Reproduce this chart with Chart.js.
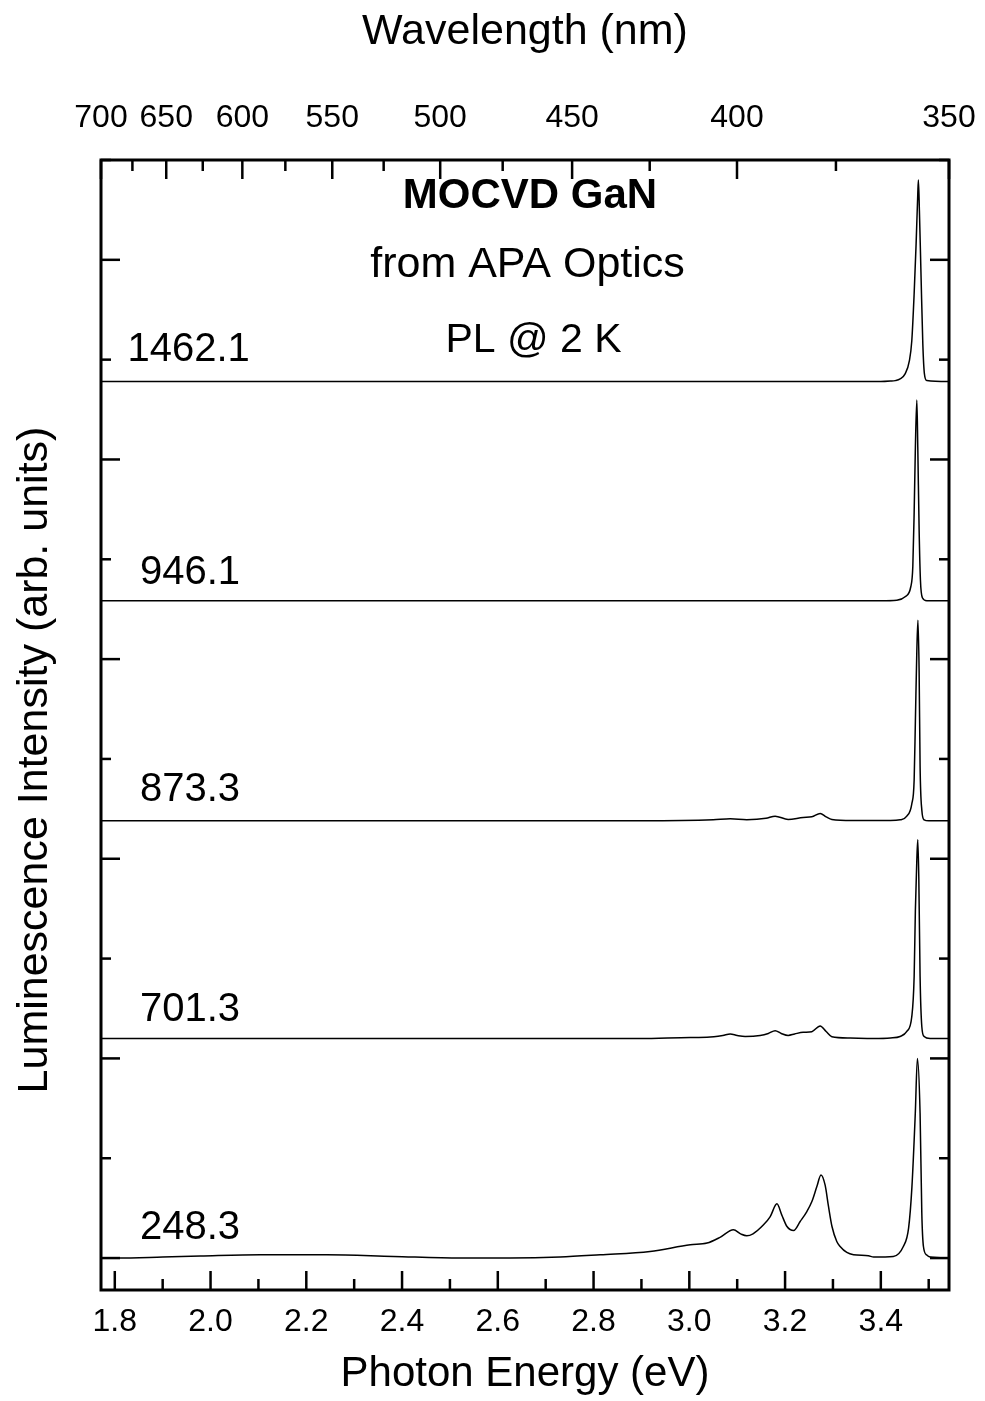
<!DOCTYPE html>
<html>
<head>
<meta charset="utf-8">
<title>MOCVD GaN PL @ 2 K</title>
<script src="https://cdn.jsdelivr.net/npm/chart.js@4.4.1/dist/chart.umd.min.js"></script>
<style>
html,body{margin:0;padding:0;background:#fff;}
canvas{display:block;}
</style>
</head>
<body>
<canvas id="chart" width="985" height="1401"></canvas>
<script>
// ---------------- DATA ----------------
const HC = 1239.84; // eV*nm
const sampleNames = ['248.3', '701.3', '873.3', '946.1', '1462.1'];
const baselineOffsets = [0, 2.20, 4.38, 6.585, 8.78];

const energy_248 = [1.7712, 1.806, 1.90, 1.979, 2.104, 2.243, 2.382, 2.522, 2.626, 2.730, 2.814, 2.918, 3.002, 3.037, 3.065, 3.092, 3.108, 3.120, 3.133, 3.155, 3.169, 3.183, 3.193, 3.204, 3.218, 3.2315, 3.2455, 3.256, 3.2664, 3.275, 3.2837, 3.2906, 3.298, 3.308, 3.315, 3.329, 3.343, 3.374, 3.385, 3.426, 3.447, 3.458, 3.465, 3.472, 3.4764, 3.482, 3.4856, 3.489, 3.496, 3.503, 3.5424];
const intensity_248 = [0, 0, 0.01, 0.02, 0.033, 0.033, 0.016, 0.0, 0.0, 0.01, 0.033, 0.066, 0.133, 0.15, 0.21, 0.283, 0.24, 0.223, 0.243, 0.333, 0.416, 0.543, 0.433, 0.316, 0.276, 0.366, 0.466, 0.566, 0.716, 0.833, 0.73, 0.52, 0.316, 0.166, 0.116, 0.056, 0.033, 0.023, 0.01, 0.016, 0.116, 0.3, 0.716, 1.45, 2.0, 1.45, 0.45, 0.116, 0.03, 0.01, 0.0];

const energy_701 = [1.7712, 2.5, 2.897, 3.002, 3.037, 3.07, 3.0854, 3.10, 3.1167, 3.148, 3.165, 3.1793, 3.192, 3.2065, 3.22, 3.2378, 3.2559, 3.2733, 3.2858, 3.2977, 3.3359, 3.3846, 3.42, 3.4403, 3.4543, 3.4647, 3.4696, 3.4722, 3.4752, 3.4772, 3.4793, 3.4820, 3.4856, 3.4904, 3.5029, 3.5424];
const intensity_701 = [0, 0, 0, 0.01, 0.012, 0.03, 0.045, 0.03, 0.02, 0.03, 0.05, 0.078, 0.05, 0.03, 0.045, 0.062, 0.068, 0.125, 0.07, 0.018, 0.005, 0, 0.005, 0.02, 0.07, 0.22, 0.62, 1.29, 1.79, 1.99, 1.62, 0.62, 0.12, 0.02, 0, 0];

const energy_873 = [1.7712, 2.9, 3.05, 3.0854, 3.12, 3.16, 3.1793, 3.2065, 3.2378, 3.2559, 3.2733, 3.2858, 3.2977, 3.34, 3.42, 3.4403, 3.4543, 3.4647, 3.4696, 3.4722, 3.4752, 3.4775, 3.4800, 3.4820, 3.4856, 3.4904, 3.50, 3.5424];
const intensity_873 = [0, 0, 0.01, 0.02, 0.012, 0.025, 0.047, 0.014, 0.034, 0.04, 0.074, 0.04, 0.014, 0.003, 0.003, 0.01, 0.047, 0.17, 0.41, 1.0, 1.7, 2.01, 1.5, 0.55, 0.11, 0.01, 0, 0];

const energy_946 = [1.7712, 3.40, 3.4334, 3.4507, 3.4626, 3.4668, 3.4696, 3.4722, 3.4752, 3.4772, 3.4800, 3.4827, 3.4868, 3.4960, 3.5424];
const intensity_946 = [0, 0, 0.005, 0.04, 0.14, 0.34, 0.88, 1.54, 2.01, 1.54, 0.71, 0.21, 0.03, 0, 0];

const energy_1462 = [1.7712, 3.40, 3.420, 3.430, 3.4403, 3.4507, 3.4597, 3.4647, 3.4696, 3.4737, 3.4772, 3.4785, 3.4806, 3.4841, 3.4877, 3.4910, 3.4960, 3.5424];
const intensity_1462 = [0, 0, 0.005, 0.01, 0.027, 0.077, 0.21, 0.41, 0.88, 1.38, 1.88, 2.02, 1.71, 1.04, 0.38, 0.08, 0.01, 0];

const energyTicks = [1.8, 1.9, 2.0, 2.1, 2.2, 2.3, 2.4, 2.5, 2.6, 2.7, 2.8, 2.9, 3.0, 3.1, 3.2, 3.3, 3.4, 3.5];
const wavelengthTicks = [700, 675, 650, 625, 600, 575, 550, 525, 500, 475, 450, 425, 400, 375, 350];
const wavelengthLabels = [700, 650, 600, 550, 500, 450, 400, 350];
const intensityTicks = [0, 1, 2, 3, 4, 5, 6, 7, 8, 9, 10, 11];

// ---------------- CHART ----------------
const FONT = '"Liberation Sans", Arial, Helvetica, sans-serif';
Chart.defaults.font.family = FONT;
Chart.defaults.color = '#000';

const spectraE = [energy_248, energy_701, energy_873, energy_946, energy_1462];
const spectraI = [intensity_248, intensity_701, intensity_873, intensity_946, intensity_1462];

const datasets = sampleNames.map((name, k) => ({
  label: name,
  data: spectraE[k].map((e, i) => ({x: e, y: spectraI[k][i] + baselineOffsets[k]})),
  borderColor: '#000',
  borderWidth: 1.5,
  pointRadius: 0,
  fill: false,
  cubicInterpolationMode: 'monotone'
}));

const E_MIN = HC / 700, E_MAX = HC / 350;

const decor = {
  id: 'decor',
  beforeDraw(chart) {
    const c = chart.ctx;
    c.save(); c.fillStyle = '#fff'; c.fillRect(0, 0, chart.width, chart.height); c.restore();
  },
  afterDraw(chart) {
    const {ctx, chartArea: a, scales} = chart;
    const xs = scales.x, xt = scales.x2, ys = scales.y;
    ctx.save();
    ctx.strokeStyle = '#000';
    ctx.lineWidth = 2.5;
    const seg = (x1, y1, x2, y2) => { ctx.beginPath(); ctx.moveTo(x1, y1); ctx.lineTo(x2, y2); ctx.stroke(); };
    xs.ticks.forEach(t => { const p = xs.getPixelForValue(t.value); seg(p, a.bottom, p, a.bottom - (t.label ? 19 : 11)); });
    xt.ticks.forEach(t => { const p = xt.getPixelForValue(t.value); seg(p, a.top, p, a.top + (t.label ? 19 : 11)); });
    ys.ticks.forEach(t => {
      const p = ys.getPixelForValue(t.value);
      const L = (Math.round(t.value) % 2 === 0) ? 19 : 10;
      seg(a.left, p, a.left + L, p);
      seg(a.right, p, a.right - L, p);
    });
    ctx.lineWidth = 3;
    ctx.strokeRect(a.left, a.top, a.right - a.left, a.bottom - a.top);

    // sample labels
    ctx.fillStyle = '#000';
    ctx.textAlign = 'left';
    ctx.textBaseline = 'alphabetic';
    ctx.font = '40px ' + FONT;
    const labelX = [140, 140, 140, 140, 127.5];
    const labelGap = [18.6, 17, 20, 17, 20.6];
    sampleNames.forEach((n, k) => {
      ctx.fillText(n, labelX[k], ys.getPixelForValue(baselineOffsets[k]) - labelGap[k]);
    });

    // annotation
    ctx.textAlign = 'center';
    ctx.font = 'bold 42px ' + FONT;
    ctx.fillText('MOCVD GaN', 530, 208);
    ctx.font = '43px ' + FONT;
    ctx.fillText('from APA Optics', 527.5, 277);
    ctx.font = '41px ' + FONT;
    ctx.fillText('PL @ 2 K', 533.5, 352);

    // y-axis title
    ctx.save();
    ctx.translate(35, 760);
    ctx.rotate(-Math.PI / 2);
    ctx.textAlign = 'center';
    ctx.textBaseline = 'middle';
    ctx.font = '43px ' + FONT;
    ctx.fillText('Luminescence Intensity (arb. units)', 0, 0);
    ctx.restore();

    ctx.restore();
  }
};

new Chart(document.getElementById('chart'), {
  type: 'line',
  data: {datasets},
  plugins: [decor],
  options: {
    responsive: false,
    animation: false,
    devicePixelRatio: 1,
    layout: {padding: {left: 0, right: 36, top: 0, bottom: 0}},
    plugins: {legend: {display: false}, tooltip: {enabled: false}},
    scales: {
      x: {
        type: 'linear', position: 'bottom', min: E_MIN, max: E_MAX,
        afterBuildTicks: s => { s.ticks = energyTicks.map(v => ({value: v})); },
        ticks: {
          autoSkip: false, maxRotation: 0, minRotation: 0, padding: 13,
          font: {size: 32},
          callback: v => (Math.round(v * 10) % 2 === 0 ? v.toFixed(1) : '')
        },
        grid: {display: false, drawTicks: false},
        border: {display: false},
        title: {display: true, text: 'Photon Energy (eV)', font: {size: 42}, padding: {top: 0, bottom: 1}},
        afterFit: s => { s.height = 111; s.paddingLeft = 0; s.paddingRight = 0; }
      },
      x2: {
        type: 'linear', position: 'top', min: E_MIN, max: E_MAX,
        afterBuildTicks: s => { s.ticks = wavelengthTicks.map(l => ({value: HC / l})); },
        ticks: {
          autoSkip: false, maxRotation: 0, minRotation: 0, padding: 23,
          font: {size: 32},
          callback: v => { const l = Math.round(HC / v); return wavelengthLabels.includes(l) ? String(l) : ''; }
        },
        grid: {display: false, drawTicks: false},
        border: {display: false},
        title: {display: true, text: 'Wavelength (nm)', font: {size: 43}, padding: {top: 6, bottom: 0}},
        afterFit: s => { s.height = 160; s.paddingLeft = 0; s.paddingRight = 0; }
      },
      y: {
        type: 'linear', position: 'left', min: -0.32, max: 11,
        afterBuildTicks: s => { s.ticks = intensityTicks.map(v => ({value: v})); },
        ticks: {display: false},
        grid: {display: false, drawTicks: false},
        border: {display: false},
        afterFit: s => { s.width = 101; }
      }
    }
  }
});
</script>
</body>
</html>
